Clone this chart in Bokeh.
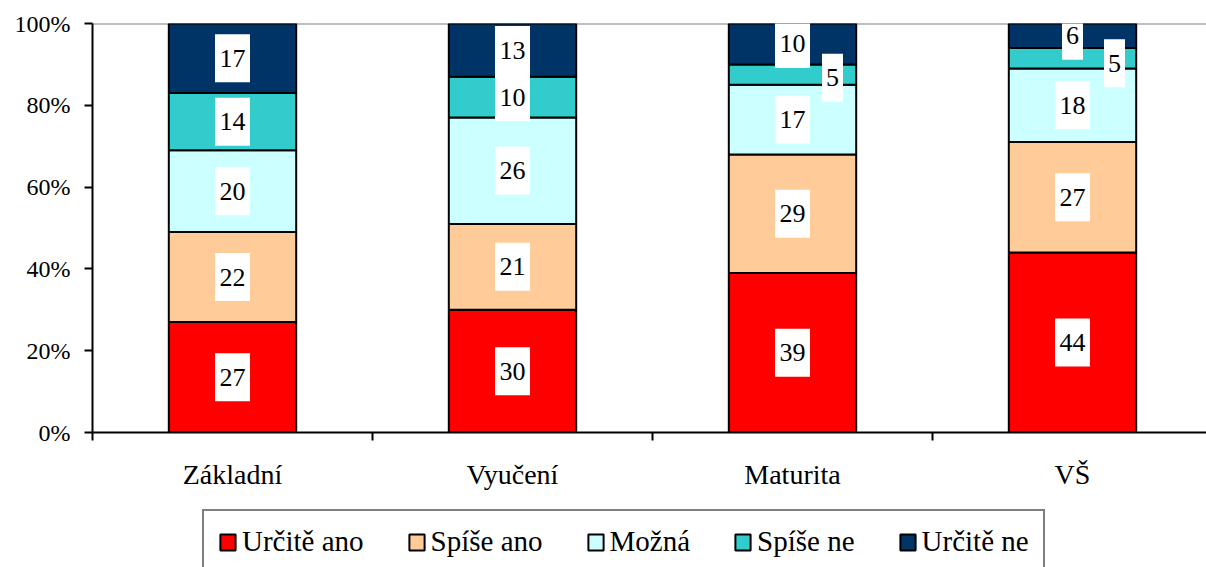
from bokeh.plotting import figure
from bokeh.layouts import column
from bokeh.models import (Range1d, FixedTicker, PrintfTickFormatter, Span,
                          Legend, LegendItem, ColumnDataSource)
from bokeh.embed import file_html
from bokeh.resources import INLINE
from bokeh.core.properties import value

# ---- data ----
categories = ["Základní", "Vyučení", "Maturita", "VŠ"]
series = ["Určitě ano", "Spíše ano", "Možná", "Spíše ne", "Určitě ne"]
urcite_ano = [27, 30, 39, 44]
spise_ano = [22, 21, 29, 27]
mozna = [20, 26, 17, 18]
spise_ne = [14, 10, 5, 5]
urcite_ne = [17, 13, 10, 6]
y_ticks = [0, 20, 40, 60, 80, 100]

# ---- styles ----
colors = ["#FF0000", "#FFCC99", "#CCFFFF", "#33CCCC", "#003366"]
FONT = "Liberation Serif"
W = 1206
H_CHART, H_LEG = 497, 70
BORDER_L, BORDER_T = 92, 23
FRAME_H = 409
X_END = (W - BORDER_L) / 280.0
# manual label nudges in screen pixels (category index, series index) -> (dx, dy down)
label_nudge = {(2, 3): (40, 3), (3, 3): (42, 5)}

values = [urcite_ano, spise_ano, mozna, spise_ne, urcite_ne]
keys = ["s%d" % i for i in range(len(series))]
x_pos = [i + 0.5 for i in range(len(categories))]
data = dict(x=x_pos)
for k, v in zip(keys, values):
    data[k] = v
source = ColumnDataSource(data)

p = figure(width=W, height=H_CHART, output_backend="svg", toolbar_location=None,
           x_range=Range1d(0, X_END), y_range=Range1d(0, 100),
           min_border_left=BORDER_L, min_border_top=BORDER_T,
           min_border_right=0, min_border_bottom=H_CHART - BORDER_T - FRAME_H)
p.outline_line_color = None
p.xgrid.visible = False
p.ygrid.visible = False

top_line = Span(location=100, dimension="width", line_color="#808080",
                line_width=2, level="underlay")
p.add_layout(top_line)

p.vbar_stack(keys, x="x", width=0.455, source=source,
             fill_color=colors, line_color="black", line_width=2)

# data labels
px_x = (W - BORDER_L) / X_END
px_y = FRAME_H / 100.0
lx, ly, lt, lw = [], [], [], []
for ci in range(len(categories)):
    base = 0
    for si, vals in enumerate(values):
        v = vals[ci]
        mid = base + v / 2.0
        base += v
        dx, dy = label_nudge.get((ci, si), (0, 0))
        lx.append(x_pos[ci] + dx / px_x)
        ly.append(mid - dy / px_y)
        lt.append(str(v))
        lw.append(7 + 14 * len(str(v)))
lsrc = ColumnDataSource(dict(x=lx, y=ly, t=lt, w=lw))
p.rect(x="x", y="y", width="w", height=48, width_units="screen",
       height_units="screen", source=lsrc, fill_color="white", line_color=None)
p.text(x="x", y="y", text="t", source=lsrc, text_font=value(FONT),
       text_font_size="26px", text_align="center", text_baseline="middle",
       text_color="black")

# axes
xa = p.xaxis[0]
xa.ticker = FixedTicker(ticks=x_pos, minor_ticks=list(range(len(categories) + 1)))
xa.major_label_overrides = {x: c for x, c in zip(x_pos, categories)}
xa.major_tick_line_color = None
xa.major_tick_out = 8
xa.major_tick_in = 0
xa.minor_tick_line_color = "black"
xa.minor_tick_line_width = 2
xa.minor_tick_out = 8
xa.minor_tick_in = 0
xa.axis_line_color = "black"
xa.axis_line_width = 2
xa.major_label_text_font = FONT
xa.major_label_text_font_size = "28px"
xa.major_label_text_color = "black"
xa.major_label_standoff = 18

ya = p.yaxis[0]
ya.ticker = FixedTicker(ticks=y_ticks)
ya.formatter = PrintfTickFormatter(format="%d%%")
ya.minor_tick_line_color = None
ya.major_tick_line_color = "black"
ya.major_tick_line_width = 2
ya.major_tick_out = 8
ya.major_tick_in = 0
ya.axis_line_color = "black"
ya.axis_line_width = 2
ya.major_label_text_font = FONT
ya.major_label_text_font_size = "24px"
ya.major_label_text_color = "black"
ya.major_label_standoff = 14

# legend strip: same bar styles as hidden renderers; only the legend is shown
pl = figure(width=W, height=H_LEG, output_backend="svg", toolbar_location=None,
            x_axis_type=None, y_axis_type=None, x_range=Range1d(-3, -2),
            y_range=Range1d(0, 1), min_border=0)
pl.outline_line_color = None
pl.xgrid.visible = False
pl.ygrid.visible = False
proxies = pl.vbar_stack(keys, x="x", width=0.455, source=source,
                        fill_color=colors, line_color="black", line_width=2)
for r in proxies:
    r.visible = False
legend = Legend(items=[LegendItem(label=s, renderers=[r]) for s, r in zip(series, proxies)],
                orientation="horizontal", location=(110, -7),
                border_line_color="black", border_line_width=2,
                background_fill_color="white", background_fill_alpha=1,
                inactive_fill_alpha=0,
                label_text_font=FONT, label_text_font_size="29px",
                label_text_color="black", glyph_width=19, glyph_height=20,
                label_standoff=5, spacing=43, padding=14)
pl.add_layout(legend)

layout = column(p, pl)
open("out.html", "w").write(file_html(layout, INLINE))
